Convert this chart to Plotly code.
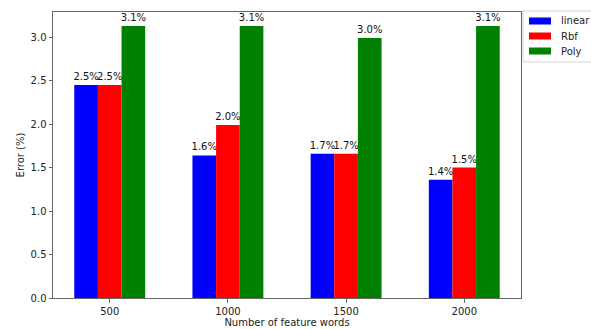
import plotly.graph_objects as go

# Error rates (%) per classifier kernel for each feature-word count
categories = ["500", "1000", "1500", "2000"]
linear_err = [2.45, 1.64, 1.66, 1.36]
rbf_err = [2.45, 1.99, 1.66, 1.50]
poly_err = [3.13, 3.13, 2.99, 3.13]
series_names = ["linear", "Rbf", "Poly"]
series_colors = ["#0000ff", "#ff0000", "#008000"]
y_ticks = [0.0, 0.5, 1.0, 1.5, 2.0, 2.5, 3.0]

W, H = 591, 329
L, R, T, B = 53, 70, 12, 31
FONT = "DejaVu Sans"

fig = go.Figure()
for name, vals, col in zip(series_names, [linear_err, rbf_err, poly_err], series_colors):
    fig.add_trace(go.Bar(
        x=categories, y=vals, name=name,
        marker=dict(color=col, line=dict(width=0)),
        texttemplate="%{y:.1f}%", textposition="outside",
        textfont=dict(family=FONT, size=10, color="#111"),
        constraintext="none", cliponaxis=False,
        showlegend=False,
    ))

axis_col = "#666"
fig.update_layout(
    width=W, height=H,
    margin=dict(l=L, r=R, t=T, b=B),
    paper_bgcolor="white", plot_bgcolor="white",
    barmode="group", bargap=0.4, bargroupgap=0,
    font=dict(family=FONT, size=10, color="#222"),
    xaxis=dict(
        type="category", range=[-0.48, 3.48], automargin=False,
        showline=True, linecolor=axis_col, linewidth=1, mirror=True,
        ticks="outside", ticklen=3.5, tickcolor=axis_col,
        showgrid=False, zeroline=False,
        tickfont=dict(size=10),
        title=dict(text="Number of feature words", font=dict(size=10), standoff=2),
    ),
    yaxis=dict(
        range=[0, 3.29], tickvals=y_ticks, ticktext=[f"{v:.1f}" for v in y_ticks],
        automargin=False,
        showline=True, linecolor=axis_col, linewidth=1, mirror=True,
        ticks="outside", ticklen=3.5, tickcolor=axis_col,
        showgrid=False, zeroline=False,
        tickfont=dict(size=10),
        title=dict(text="Error (%)", font=dict(size=10), standoff=4),
    ),
)

# Legend box drawn outside the plot area on the right
pw, ph = W - L - R, H - T - B
def px(x):
    return (x - L) / pw
def py(y):
    return (H - B - y) / ph

fig.add_shape(type="rect", xref="paper", yref="paper",
              x0=px(523), x1=px(600), y0=py(62), y1=py(11),
              line=dict(color="#d6d6d6", width=1), fillcolor="white", layer="above")
for i, (name, col) in enumerate(zip(series_names, series_colors)):
    cy = 21 + 15 * i
    fig.add_shape(type="rect", xref="paper", yref="paper",
                  x0=px(529), x1=px(551), y0=py(cy + 3.5), y1=py(cy - 3.5),
                  line=dict(width=0), fillcolor=col, layer="above")
    fig.add_annotation(xref="paper", yref="paper", x=px(559), y=py(cy),
                       text=name, showarrow=False, xanchor="left", yanchor="middle",
                       font=dict(family=FONT, size=10, color="#222"))

fig.write_html("out.html")
